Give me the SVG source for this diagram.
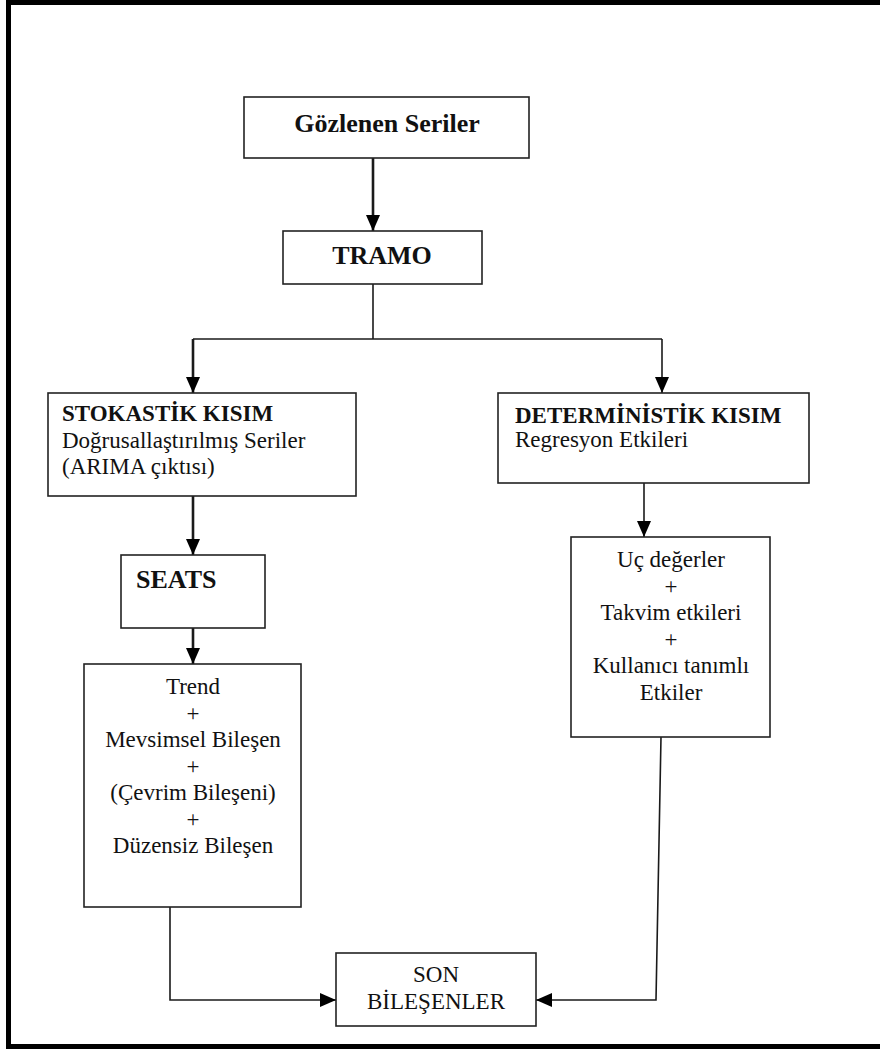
<svg xmlns="http://www.w3.org/2000/svg" width="880" height="1051" viewBox="0 0 880 1051">
  <style>
    .box { fill: #ffffff; stroke: #222222; stroke-width: 1.6; }
    .title { font-family: "Liberation Serif", "Times New Roman", serif; font-weight: bold; fill: #111111; }
    .txt { font-family: "Liberation Serif", "Times New Roman", serif; font-size: 23px; fill: #111111; }
    .mid { text-anchor: middle; }
    .link { fill: none; stroke: #1a1a1a; stroke-width: 1.6; }
    .heavy { stroke-width: 2.6; }
  </style>
  <defs>
    <marker id="arrow" viewBox="0 0 16 14" refX="16" refY="7" markerWidth="16" markerHeight="14" markerUnits="userSpaceOnUse" orient="auto">
      <path d="M0,0 L16,7 L0,14 z" fill="#000000"/>
    </marker>
  </defs>

  <rect width="880" height="1051" fill="#ffffff"/>
  <!-- page frame -->
  <path d="M8.5,1046.5 L8.5,2.5 L884,2.5 M6,1046.5 L884,1046.5" fill="none" stroke="#000000" stroke-width="5"/>

  <g id="connectors">
    <line class="link heavy" x1="373" y1="158" x2="373" y2="231" marker-end="url(#arrow)"/>
    <polyline class="link" points="373,284 373,339"/>
    <polyline class="link" points="193,339 662,339"/>
    <line class="link heavy" x1="193" y1="339" x2="193" y2="393" marker-end="url(#arrow)"/>
    <line class="link" x1="662" y1="339" x2="662" y2="393" marker-end="url(#arrow)"/>
    <line class="link heavy" x1="193" y1="496" x2="193" y2="555" marker-end="url(#arrow)"/>
    <line class="link heavy" x1="193" y1="628" x2="193" y2="664" marker-end="url(#arrow)"/>
    <line class="link" x1="644" y1="483" x2="644" y2="537" marker-end="url(#arrow)"/>
    <polyline class="link" points="170,907 170,1000 336,1000" marker-end="url(#arrow)"/>
    <polyline class="link" points="661,737 656,1000 536,1000" marker-end="url(#arrow)"/>
  </g>

  <g id="gozlenen">
    <rect class="box" x="244" y="97" width="285" height="61"/>
    <text class="title mid" x="387" y="132" font-size="26">Gözlenen Seriler</text>
  </g>

  <g id="tramo">
    <rect class="box" x="283" y="231" width="199" height="53"/>
    <text class="title mid" x="382" y="264" font-size="26">TRAMO</text>
  </g>

  <g id="stokastik">
    <rect class="box" x="48" y="393" width="308" height="103"/>
    <text class="title" x="62" y="421" font-size="23">STOKASTİK KISIM</text>
    <text class="txt" x="62" y="448">Doğrusallaştırılmış Seriler</text>
    <text class="txt" x="62" y="474">(ARIMA çıktısı)</text>
  </g>

  <g id="deterministik">
    <rect class="box" x="498" y="393" width="311" height="90"/>
    <text class="title" x="515" y="423" font-size="23">DETERMİNİSTİK KISIM</text>
    <text class="txt" x="515" y="447">Regresyon Etkileri</text>
  </g>

  <g id="seats">
    <rect class="box" x="121" y="555" width="144" height="73"/>
    <text class="title" x="136" y="588" font-size="26">SEATS</text>
  </g>

  <g id="bilesenler">
    <rect class="box" x="84" y="664" width="217" height="243"/>
    <text class="txt mid" x="193" y="694">Trend</text>
    <text class="txt mid" x="193" y="720.5">+</text>
    <text class="txt mid" x="193" y="747">Mevsimsel Bileşen</text>
    <text class="txt mid" x="193" y="773.5">+</text>
    <text class="txt mid" x="193" y="800">(Çevrim Bileşeni)</text>
    <text class="txt mid" x="193" y="826.5">+</text>
    <text class="txt mid" x="193" y="853">Düzensiz Bileşen</text>
  </g>

  <g id="etkiler">
    <rect class="box" x="571" y="537" width="199" height="200"/>
    <text class="txt mid" x="671" y="567">Uç değerler</text>
    <text class="txt mid" x="671" y="593.5">+</text>
    <text class="txt mid" x="671" y="620">Takvim etkileri</text>
    <text class="txt mid" x="671" y="646.5">+</text>
    <text class="txt mid" x="671" y="673">Kullanıcı tanımlı</text>
    <text class="txt mid" x="671" y="700">Etkiler</text>
  </g>

  <g id="son">
    <rect class="box" x="336" y="953" width="200" height="73"/>
    <text class="txt mid" x="436" y="982">SON</text>
    <text class="txt mid" x="436" y="1009">BİLEŞENLER</text>
  </g>
</svg>
